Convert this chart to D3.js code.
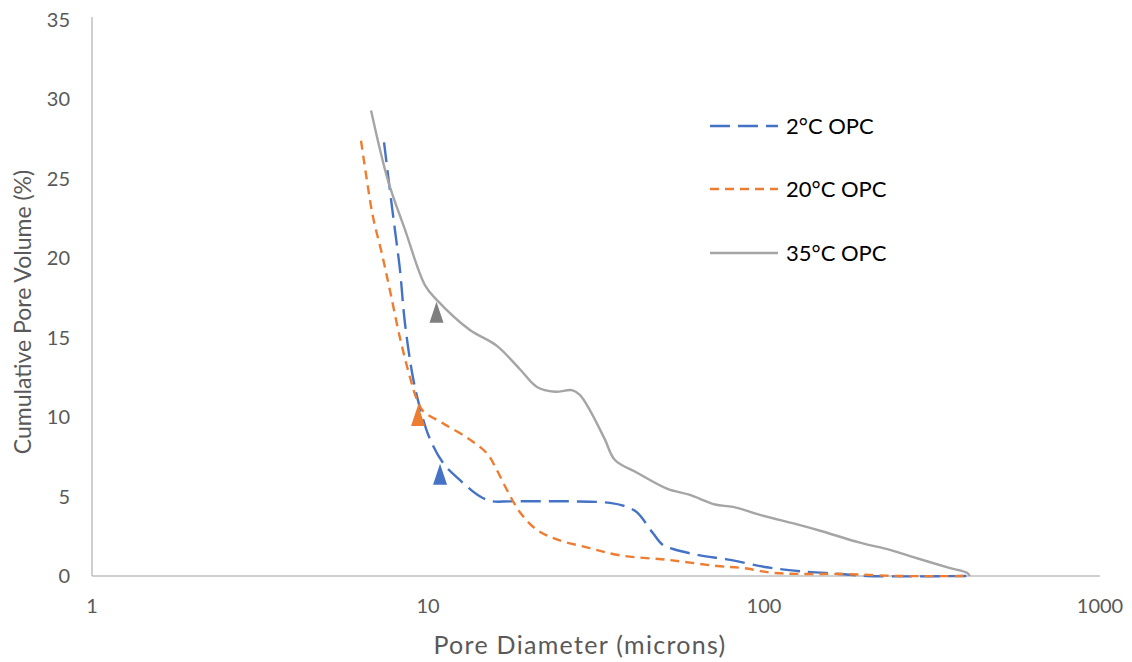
<!DOCTYPE html>
<html>
<head>
<meta charset="utf-8">
<script src="https://cdn.jsdelivr.net/npm/d3@7"></script>
<style>
  html, body { margin: 0; padding: 0; background: #fff; }
  svg text { font-family: Lato, "Open Sans", sans-serif; fill: #595959; }
</style>
</head>
<body>
<svg id="chart" width="1132" height="662"></svg>
<script>
// Cumulative pore volume (%) against pore diameter (microns), three curing temperatures
const seriesNames = ["2°C OPC", "20°C OPC", "35°C OPC"];
const seriesColors = ["#4472C4", "#ED7D31", "#A5A5A5"];
const markerColors = ["#4472C4", "#ED7D31", "#7F7F7F"];

const diam2C = [7.4, 7.7, 7.97, 8.25, 8.54, 9.02, 9.46, 10.1, 11.1, 12.2, 14.3, 15.6, 17.5, 26.5, 34.8, 39.1, 41.9, 46.7, 50.0, 53.6, 64.5, 77.6, 102, 128, 168, 203, 400];
const vol2C  = [27.3, 24.3, 21.8, 19.3, 15.9, 12.5, 10.6, 8.7, 7.1, 6.2, 5.0, 4.7, 4.7, 4.7, 4.6, 4.35, 4.0, 2.7, 1.95, 1.7, 1.3, 1.05, 0.55, 0.3, 0.13, 0, 0];

const diam20C = [6.32, 6.58, 6.86, 7.29, 7.7, 8.25, 8.84, 9.27, 9.66, 11.1, 13.3, 15.0, 16.0, 17.2, 18.8, 21.1, 24.2, 29.7, 37.3, 52.5, 72.4, 86.8, 106, 128, 168, 254, 400];
const vol20C  = [27.4, 24.9, 22.6, 20.3, 18.0, 15.0, 12.5, 11.1, 10.4, 9.6, 8.6, 7.7, 6.7, 5.4, 4.0, 2.9, 2.3, 1.8, 1.3, 1.0, 0.63, 0.5, 0.2, 0.13, 0.13, 0, 0];

const diam35C = [6.77, 7.6, 8.54, 9.8, 10.6, 13.3, 16.0, 18.8, 21.1, 23.9, 26.8, 28.3, 30.4, 33.6, 36.0, 41.9, 51.4, 60.2, 71.5, 80.9, 97.2, 128, 147, 193, 237, 272, 358, 402, 410];
const vol35C  = [29.3, 24.9, 21.8, 18.3, 17.4, 15.5, 14.5, 13.0, 11.9, 11.6, 11.7, 11.4, 10.4, 8.6, 7.3, 6.5, 5.5, 5.1, 4.5, 4.35, 3.85, 3.2, 2.85, 2.1, 1.65, 1.25, 0.5, 0.2, 0];

// Triangle markers (one per series)
const markerDiam = [10.86, 9.34, 10.6];
const markerVol  = [6.4, 10.1, 16.6];

const xTicks = [1, 10, 100, 1000];
const yTicks = [0, 5, 10, 15, 20, 25, 30, 35];

const svg = d3.select("#chart");

const x = d3.scaleLog().domain([1, 1000]).range([92, 1100]);
const y = d3.scaleLinear().domain([0, 35]).range([576, 20]);

// Axes lines (no tick marks)
svg.append("line").attr("x1", x(1)).attr("x2", x(1)).attr("y1", y(35) - 3).attr("y2", y(0))
  .attr("stroke", "#BFBFBF").attr("stroke-width", 1.5);
svg.append("line").attr("x1", x(1)).attr("x2", x(1000)).attr("y1", y(0)).attr("y2", y(0))
  .attr("stroke", "#BFBFBF").attr("stroke-width", 1.5);

// Tick labels
svg.append("g").selectAll("text").data(yTicks).join("text")
  .attr("x", 70).attr("y", d => y(d)).attr("dy", "0.35em")
  .attr("text-anchor", "end").attr("font-size", 20).text(d => d);

svg.append("g").selectAll("text").data(xTicks).join("text")
  .attr("x", d => x(d)).attr("y", 613)
  .attr("text-anchor", "middle").attr("font-size", 20).text(d => d);

// Axis titles
svg.append("text").attr("x", 580).attr("y", 654).attr("text-anchor", "middle")
  .attr("font-size", 25).attr("letter-spacing", 1.3).text("Pore Diameter (microns)");
svg.append("text").attr("transform", "translate(31,312) rotate(-90)").attr("text-anchor", "middle")
  .attr("font-size", 23).text("Cumulative Pore Volume (%)");

const series = [
  { diam: diam2C,  vol: vol2C,  dash: "20,8" },
  { diam: diam20C, vol: vol20C, dash: "9,6" },
  { diam: diam35C, vol: vol35C, dash: null }
];

const line = d3.line()
  .x(d => x(d[0])).y(d => y(d[1]))
  .curve(d3.curveCatmullRom.alpha(0.5));

series.forEach((s, i) => {
  const pts = s.diam.map((d, j) => [d, s.vol[j]]);
  svg.append("path").datum(pts)
    .attr("d", line)
    .attr("fill", "none")
    .attr("stroke", seriesColors[i])
    .attr("stroke-width", 2.4)
    .attr("stroke-dasharray", s.dash)
    .attr("stroke-linejoin", "round");
});

// Triangle markers
const triW = 14, triH = 21;
markerDiam.forEach((d, i) => {
  const cx = x(d), cy = y(markerVol[i]);
  svg.append("path")
    .attr("d", `M${cx},${cy - triH / 2}L${cx + triW / 2},${cy + triH / 2}L${cx - triW / 2},${cy + triH / 2}Z`)
    .attr("fill", markerColors[i]);
});

// Legend
const legendY = [126, 189, 253];
series.forEach((s, i) => {
  svg.append("line").attr("x1", 710).attr("x2", 778).attr("y1", legendY[i]).attr("y2", legendY[i])
    .attr("stroke", seriesColors[i]).attr("stroke-width", 2.4)
    .attr("stroke-dasharray", s.dash);
  svg.append("text").attr("x", 786).attr("y", legendY[i]).attr("dy", "0.35em")
    .attr("font-size", 22).style("fill", "#000").text(seriesNames[i]);
});
</script>
</body>
</html>
